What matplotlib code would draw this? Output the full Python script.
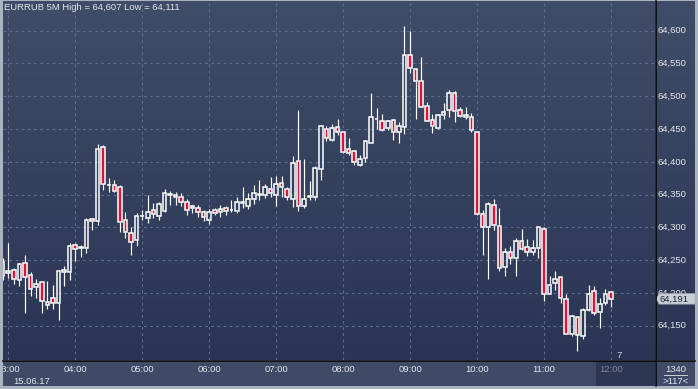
import numpy as np
import pandas as pd
import matplotlib
matplotlib.use("Agg")
import matplotlib.pyplot as plt
from matplotlib.patches import Rectangle, Polygon
from matplotlib.lines import Line2D
import matplotlib.transforms as mtrans

# ---------------- data (EURRUB, 5-minute candles) ----------------
start_time = "2017-06-15 02:55"
opens = [64.247, 64.230, 64.235, 64.219, 64.245, 64.228, 64.209, 64.216, 64.186, 64.192,
         64.185, 64.232, 64.232, 64.273, 64.269, 64.268, 64.313, 64.310, 64.422, 64.365,
         64.365, 64.361, 64.312, 64.291, 64.280, 64.317, 64.315, 64.326, 64.318, 64.325,
         64.351, 64.349, 64.347, 64.338, 64.329, 64.329, 64.323, 64.311, 64.326, 64.323,
         64.329, 64.326, 64.325, 64.337, 64.333, 64.344, 64.350, 64.349, 64.358, 64.349,
         64.367, 64.358, 64.343, 64.402, 64.332, 64.347, 64.347, 64.389, 64.450, 64.434,
         64.453, 64.445, 64.419, 64.417, 64.395, 64.406, 64.428, 64.466, 64.463, 64.451,
         64.464, 64.446, 64.453, 64.563, 64.541, 64.524, 64.485, 64.464, 64.452, 64.472,
         64.479, 64.505, 64.479, 64.468, 64.469, 64.445, 64.321, 64.301, 64.334, 64.302,
         64.240, 64.262, 64.253, 64.279, 64.270, 64.263, 64.269, 64.298, 64.199, 64.215,
         64.224, 64.190, 64.138, 64.164, 64.134, 64.174, 64.203, 64.171, 64.184, 64.201]
highs = [64.253, 64.276, 64.238, 64.246, 64.258, 64.232, 64.221, 64.217, 64.218, 64.212,
         64.235, 64.241, 64.276, 64.276, 64.273, 64.315, 64.315, 64.427, 64.426, 64.375,
         64.372, 64.365, 64.324, 64.300, 64.322, 64.327, 64.350, 64.337, 64.338, 64.358,
         64.356, 64.354, 64.352, 64.343, 64.334, 64.334, 64.327, 64.328, 64.330, 64.334,
         64.333, 64.342, 64.346, 64.361, 64.352, 64.365, 64.373, 64.366, 64.377, 64.378,
         64.378, 64.362, 64.409, 64.479, 64.405, 64.371, 64.394, 64.455, 64.455, 64.457,
         64.466, 64.446, 64.437, 64.418, 64.410, 64.433, 64.505, 64.482, 64.473, 64.464,
         64.465, 64.461, 64.607, 64.600, 64.542, 64.560, 64.492, 64.473, 64.473, 64.489,
         64.510, 64.508, 64.484, 64.483, 64.474, 64.446, 64.327, 64.339, 64.343, 64.330,
         64.268, 64.272, 64.284, 64.297, 64.282, 64.281, 64.301, 64.300, 64.226, 64.234,
         64.225, 64.198, 64.166, 64.165, 64.177, 64.212, 64.211, 64.192, 64.206, 64.201]
lows = [64.220, 64.223, 64.214, 64.211, 64.169, 64.196, 64.192, 64.170, 64.176, 64.176,
        64.158, 64.210, 64.220, 64.249, 64.255, 64.261, 64.296, 64.303, 64.357, 64.354,
        64.354, 64.293, 64.284, 64.258, 64.272, 64.311, 64.306, 64.314, 64.311, 64.323,
        64.334, 64.334, 64.332, 64.319, 64.322, 64.316, 64.309, 64.305, 64.319, 64.316,
        64.319, 64.324, 64.322, 64.329, 64.328, 64.336, 64.342, 64.345, 64.346, 64.332,
        64.347, 64.342, 64.331, 64.325, 64.329, 64.342, 64.342, 64.373, 64.432, 64.432,
        64.441, 64.413, 64.410, 64.395, 64.393, 64.399, 64.428, 64.450, 64.447, 64.449,
        64.434, 64.428, 64.443, 64.536, 64.466, 64.483, 64.462, 64.444, 64.450, 64.466,
        64.469, 64.461, 64.469, 64.466, 64.446, 64.319, 64.258, 64.222, 64.296, 64.234,
        64.226, 64.244, 64.226, 64.266, 64.256, 64.258, 64.254, 64.188, 64.198, 64.205,
        64.184, 64.137, 64.135, 64.111, 64.129, 64.173, 64.166, 64.147, 64.182, 64.179]
closes = [64.226, 64.233, 64.221, 64.244, 64.224, 64.206, 64.213, 64.188, 64.181, 64.185,
          64.233, 64.235, 64.272, 64.267, 64.270, 64.311, 64.309, 64.420, 64.366, 64.364,
          64.356, 64.308, 64.293, 64.278, 64.318, 64.318, 64.323, 64.321, 64.336, 64.352,
          64.350, 64.346, 64.339, 64.326, 64.332, 64.323, 64.316, 64.323, 64.322, 64.328,
          64.325, 64.327, 64.338, 64.338, 64.343, 64.352, 64.351, 64.361, 64.352, 64.366,
          64.362, 64.346, 64.398, 64.332, 64.344, 64.348, 64.390, 64.455, 64.437, 64.451,
          64.446, 64.415, 64.414, 64.399, 64.405, 64.432, 64.468, 64.465, 64.449, 64.462,
          64.445, 64.455, 64.563, 64.543, 64.524, 64.484, 64.463, 64.454, 64.472, 64.476,
          64.505, 64.478, 64.470, 64.471, 64.448, 64.320, 64.300, 64.335, 64.303, 64.238,
          64.262, 64.254, 64.279, 64.267, 64.262, 64.268, 64.300, 64.199, 64.212, 64.222,
          64.192, 64.138, 64.165, 64.136, 64.174, 64.199, 64.169, 64.183, 64.199, 64.191]

price_ticks = [64.150, 64.200, 64.250, 64.300, 64.350, 64.400, 64.450, 64.500, 64.550, 64.600]
price_labels = ["64,150", "64,200", "64,250", "64,300", "64,350",
                "64,400", "64,450", "64,500", "64,550", "64,600"]
title_text = "EURRUB 5M High = 64,607 Low = 64,111"
date_label = "15.06.17"
count_top = "1340"
count_bottom = ">117<"
timer_label = "7"

# ---------------- style ----------------
W, H = 698, 389
BORDER = "#abb2c0"
TOP_COL = np.array([63, 77, 104]) / 255
BOT_COL = np.array([42, 53, 83]) / 255
PANEL = "#3e4a66"
GRID = "#5d6d90"
RED = "#e0123a"
TXT = "#e2e6ec"
FONT = "Liberation Sans"
FS = 6.8

opens = np.array(opens); highs = np.array(highs)
lows = np.array(lows); closes = np.array(closes)
n = len(opens)
times = pd.date_range(start_time, periods=n, freq="5min")
x = np.arange(n)

# view geometry (pixels)
X0, X1, Y0, Y1 = 3, 655, 1, 360          # plot area
PX_PER_BAR = 5.58
PX_PER_UNIT = 655.6
REF_PRICE, REF_Y = 64.600, 30.7
FIRST_BAR_PX = 2.7
xlim = ((X0 - FIRST_BAR_PX) / PX_PER_BAR, (X1 - FIRST_BAR_PX) / PX_PER_BAR)
ylim = (REF_PRICE - (Y1 - REF_Y) / PX_PER_UNIT, REF_PRICE + (REF_Y - Y0) / PX_PER_UNIT)


def px_rect(x0, y0, x1, y1):
    return [x0 / W, 1 - y1 / H, (x1 - x0) / W, (y1 - y0) / H]


def gradient(ax):
    t = np.linspace(0, 1, 256)[:, None]
    img = TOP_COL[None, None, :] * (1 - t[:, :, None]) + BOT_COL[None, None, :] * t[:, :, None]
    ax.imshow(img, extent=[0, 1, 0, 1], transform=ax.transAxes, aspect="auto",
              zorder=0, interpolation="bilinear")


def clean(ax):
    ax.set_xticks([]); ax.set_yticks([])
    for s in ax.spines.values():
        s.set_visible(False)


fig = plt.figure(figsize=(W / 100, H / 100), dpi=100, facecolor=BORDER)

# ---------------- main plot ----------------
ax = fig.add_axes(px_rect(X0, Y0, X1, Y1))
clean(ax)
gradient(ax)
ax.set_xlim(*xlim); ax.set_ylim(*ylim)

hour_idx = [i for i, t in enumerate(times) if t.minute == 0]
for i in hour_idx:
    ax.axvline(i, color=GRID, lw=0.8, ls=(0, (2.5, 3)), zorder=1)
for p in price_ticks:
    ax.axhline(p, color=GRID, lw=0.8, ls=(0, (2.5, 3)), zorder=1)

body_lo = np.minimum(opens, closes)
body_hi = np.maximum(opens, closes)
bull = closes >= opens
ax.vlines(x, body_hi, highs, color="white", lw=0.85, zorder=3)
ax.vlines(x, lows, body_lo, color="white", lw=0.85, zorder=3)
h = np.maximum(body_hi - body_lo, 1e-4)
ax.bar(x[bull], h[bull], bottom=body_lo[bull], width=0.64, facecolor="none",
       edgecolor="white", linewidth=1.1, zorder=4)
ax.bar(x[~bull], h[~bull], bottom=body_lo[~bull], width=0.64, facecolor=RED,
       edgecolor="white", linewidth=1.1, zorder=4)

ax.text((619 - X0) / (X1 - X0), (Y1 - 355) / (Y1 - Y0), timer_label, transform=ax.transAxes,
        ha="center", va="center", fontsize=FS, color="#c9d1df", family=FONT, zorder=5)

# ---------------- right price axis ----------------
rax = fig.add_axes(px_rect(656, Y0, 695, Y1))
clean(rax)
gradient(rax)
rax.set_xlim(0, 1); rax.set_ylim(*ylim)
rtr = mtrans.blended_transform_factory(rax.transAxes, rax.transData)
for p, lab in zip(price_ticks, price_labels):
    rax.text(0.05, p, lab, transform=rtr, ha="left", va="center", fontsize=FS,
             color=TXT, family=FONT, zorder=2)
last = closes[-1]
dh = 5.3 / PX_PER_UNIT
box = Polygon([(0.0, last), (0.07, last + dh * 0.8), (0.07, last + dh), (1.0, last + dh),
               (1.0, last - dh), (0.07, last - dh), (0.07, last - dh * 0.8)],
              closed=True, transform=rtr, facecolor="#c9cdd6", edgecolor="#9aa0ab",
              lw=0.5, zorder=3)
rax.add_patch(box)
rax.text(0.09, last, f"{last:.3f}".replace(".", ","), transform=rtr, ha="left", va="center",
         fontsize=FS, color="#1e2432", family=FONT, zorder=4)

# ---------------- bottom time axis ----------------
bax = fig.add_axes(px_rect(X0, 361, X1, 386))
clean(bax)
bax.set_facecolor(PANEL)
bax.set_xlim(*xlim); bax.set_ylim(0, 1)
btr = mtrans.blended_transform_factory(bax.transData, bax.transAxes)
bax.add_patch(Rectangle((n - 1 - 2.6, 0), xlim[1] - (n - 1 - 2.6), 1, transform=btr,
                        facecolor="#2c3652", edgecolor="none", zorder=1))
for i in hour_idx:
    col = "#7f889b" if i == n - 1 else TXT
    bax.text(i, 0.68, times[i].strftime("%H:%M"), transform=btr, ha="center", va="center",
             fontsize=FS, color=col, family=FONT, clip_on=True, zorder=2)
bax.text((13 - X0) / (X1 - X0), 0.2, date_label, transform=bax.transAxes, ha="left",
         va="center", fontsize=FS, color=TXT, family=FONT, zorder=2)

# ---------------- corner box ----------------
cax = fig.add_axes(px_rect(656, 361, 695, 386))
clean(cax)
cax.set_facecolor(PANEL)
cax.set_xlim(0, 1); cax.set_ylim(0, 1)
cax.text(0.5, 0.68, count_top, ha="center", va="center", fontsize=FS, color=TXT, family=FONT)
cax.plot([0.2, 0.8], [0.45, 0.45], color=TXT, lw=0.6)
cax.text(0.5, 0.2, count_bottom, ha="center", va="center", fontsize=FS, color=TXT, family=FONT)

# ---------------- title & separators ----------------
fig.text(4 / W, 1 - 8 / H, title_text, ha="left", va="center", fontsize=FS, color=TXT,
         family=FONT)
fig.add_artist(Line2D([655.5 / W, 655.5 / W], [1 - Y0 / H, 1 - 386 / H], color="black",
                      lw=1.1, transform=fig.transFigure))
fig.add_artist(Line2D([X0 / W, 695 / W], [1 - 360.5 / H, 1 - 360.5 / H], color="black",
                      lw=1.1, transform=fig.transFigure))

fig.savefig("out.png", dpi=100, facecolor=BORDER)
